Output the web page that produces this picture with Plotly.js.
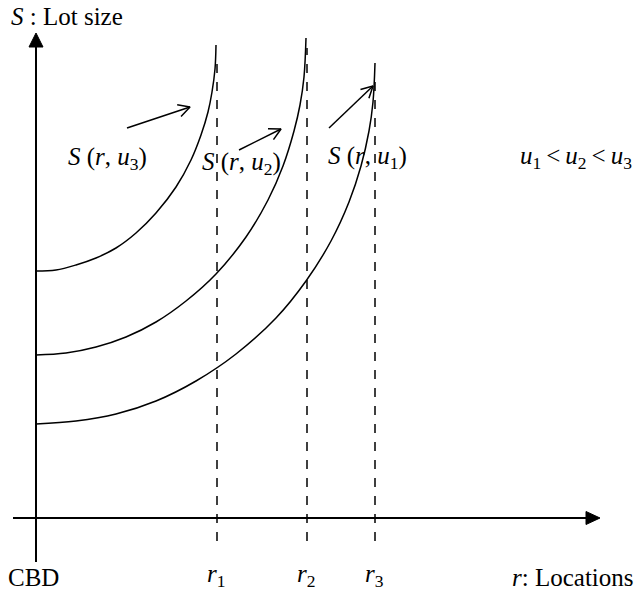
<!DOCTYPE html>
<html>
<head>
<meta charset="utf-8">
<script src="https://cdn.plot.ly/plotly-3.0.1.min.js"></script>
<style>html,body{margin:0;padding:0;background:#fff;}#chart{width:637px;height:590px;}</style>
</head>
<body>
<div id="chart"></div>
<script>
// Schematic lot-size curves S(r,u) (arbitrary units, origin at CBD)
var curveNames = ["S(r,u3)", "S(r,u2)", "S(r,u1)"];
var u3X = [0, 20, 40, 60, 80, 100, 120, 140, 155, 165, 172, 176, 179, 180];
var u3Y = [247, 248, 253, 260, 270, 285, 305, 331, 358, 383, 406, 426, 449, 473];
var u2X = [0, 30, 60, 90, 120, 150, 180, 210, 232, 247, 258, 264, 268, 270];
var u2Y = [163, 165, 171, 181, 196, 217, 244, 281, 318, 352, 387, 413, 441, 480];
var u1X = [0, 40, 80, 120, 160, 200, 240, 270, 295, 313, 325, 333, 337, 339];
var u1Y = [94, 97, 104, 117, 137, 164, 200, 237, 277, 316, 352, 387, 416, 455];

// Locations r1, r2, r3 and the top of their dashed guides
var locNames = ["r1", "r2", "r3"];
var locX = [181, 271, 339];
var locTop = [455, 470, 440];
var locBottom = -23;

// Pointer arrows (from label to curve)
var arrowFromX = [91, 203, 293];
var arrowFromY = [390, 368, 390];
var arrowToX = [154, 245, 337];
var arrowToY = [411, 389, 432];

// Axis extents
var yAxisBottom = -44, yAxisTop = 485;
var xAxisLeft = -23, xAxisRight = 564;

var font = "'Liberation Serif', 'Times New Roman', Tinos, 'DejaVu Serif', serif";
var black = "#000";
var traces = [];

function line(xs, ys, w) {
  traces.push({x: xs, y: ys, type: "scatter", mode: "lines", hoverinfo: "skip",
    line: {color: black, width: w, shape: "spline", smoothing: 1}});
}
function straight(xs, ys, w, dash) {
  traces.push({x: xs, y: ys, type: "scatter", mode: "lines", hoverinfo: "skip",
    line: {color: black, width: w, dash: dash || "solid"}});
}
function filledHead(tx, ty, dx, dy, len, half) {
  var bx = tx - dx * len, by = ty - dy * len;
  var px = -dy, py = dx;
  traces.push({x: [tx, bx + px * half, bx - px * half, tx], y: [ty, by + py * half, by - py * half, ty],
    type: "scatter", mode: "lines", fill: "toself", fillcolor: black, hoverinfo: "skip",
    line: {color: black, width: 1}});
}
function openHead(tx, ty, fx, fy, len, ang) {
  var dx = tx - fx, dy = ty - fy, L = Math.sqrt(dx * dx + dy * dy);
  dx /= L; dy /= L;
  var a = ang * Math.PI / 180;
  function rot(c, s) { return [-(dx * c - dy * s), -(dx * s + dy * c)]; }
  var w1 = rot(Math.cos(a), Math.sin(a)), w2 = rot(Math.cos(-a), Math.sin(-a));
  straight([tx + w1[0] * len, tx, tx + w2[0] * len], [ty + w1[1] * len, ty, ty + w2[1] * len], 1.5);
}

// axes
straight([0, 0], [yAxisBottom, yAxisTop - 12], 2);
filledHead(0, yAxisTop, 0, 1, 14, 7);
straight([xAxisLeft, xAxisRight - 12], [0, 0], 2);
filledHead(xAxisRight, 0, 1, 0, 14, 6.5);

// dashed location lines
for (var i = 0; i < locX.length; i++) {
  straight([locX[i], locX[i]], [locBottom, locTop[i]], 1.5, "dash");
}
// curves
line(u3X, u3Y, 1.5);
line(u2X, u2Y, 1.5);
line(u1X, u1Y, 1.5);

// pointer arrows
for (var j = 0; j < arrowFromX.length; j++) {
  straight([arrowFromX[j], arrowToX[j]], [arrowFromY[j], arrowToY[j]], 1.5);
  openHead(arrowToX[j], arrowToY[j], arrowFromX[j], arrowFromY[j], 13, 28);
}

function ann(x, y, text, xanchor, size) {
  return {x: x, y: y, xref: "x", yref: "y", text: text, showarrow: false,
    xanchor: xanchor || "center", yanchor: "middle",
    font: {family: font, size: size || 25, color: black}};
}
var annotations = [
  ann(-27, 502, "<i>S</i> : Lot size", "left"),
  ann(-3, -59, "CBD"),
  ann(locX[0] - 1, -57, "<i>r</i><sub>1</sub>"),
  ann(locX[1] - 1, -57, "<i>r</i><sub>2</sub>"),
  ann(locX[2] - 1, -57, "<i>r</i><sub>3</sub>"),
  ann(600, -59, "<i>r</i>: Locations", "right"),
  ann(71, 360, "<i>S</i> (<i>r</i>, <i>u</i><sub>3</sub>)"),
  ann(205, 355, "<i>S</i> (<i>r</i>, <i>u</i><sub>2</sub>)"),
  ann(331, 361, "<i>S</i> (<i>r</i>, <i>u</i><sub>1</sub>)"),
  ann(482, 361, "<i>u</i><sub>1</sub>&#8201;&lt;&#8201;<i>u</i><sub>2</sub>&#8201;&lt;&#8201;<i>u</i><sub>3</sub>", "left")
];

var layout = {
  width: 637, height: 590,
  margin: {l: 0, r: 0, t: 0, b: 0},
  paper_bgcolor: "#fff", plot_bgcolor: "#fff",
  showlegend: false,
  font: {family: font},
  xaxis: {range: [-36, 601], visible: false, fixedrange: true},
  yaxis: {range: [-72, 518], visible: false, fixedrange: true},
  annotations: annotations
};
Plotly.newPlot("chart", traces, layout, {staticPlot: true, displayModeBar: false});
</script>
</body>
</html>
